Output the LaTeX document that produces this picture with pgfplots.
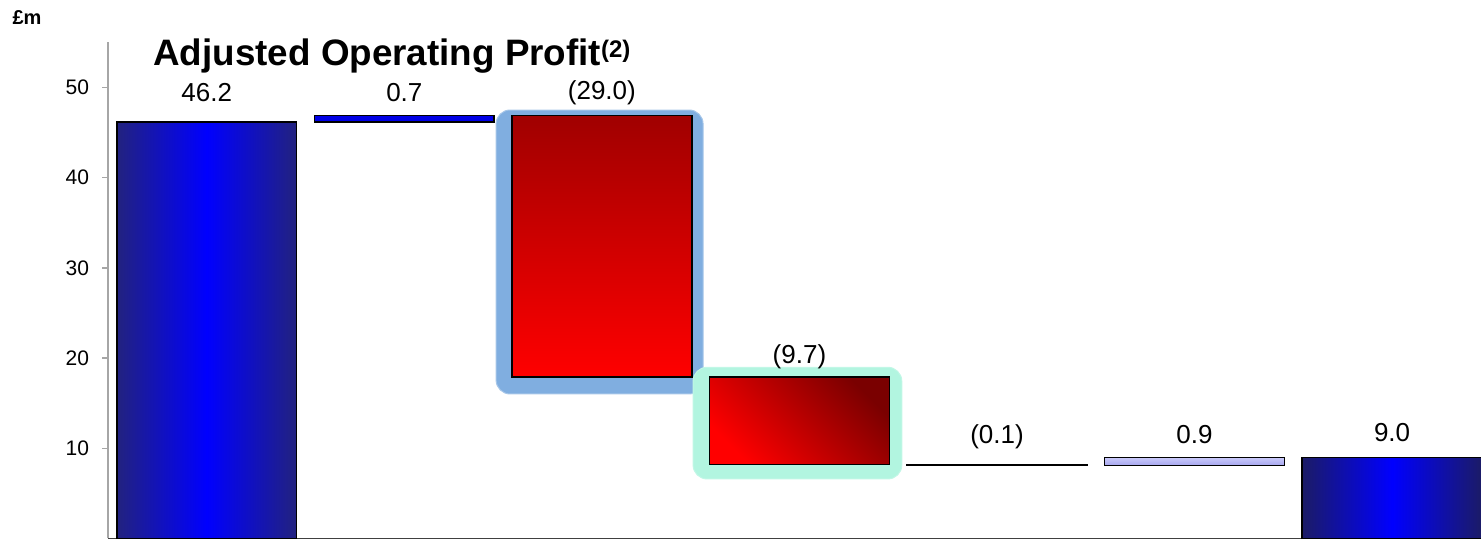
\documentclass[border=0pt]{standalone}
\usepackage{fontspec}
\setmainfont{Liberation Sans}
\usepackage{pgfplots}
\pgfplotsset{compat=1.18}
\definecolor{navyedge}{HTML}{22227F}
\definecolor{barblue}{HTML}{0000FF}
\definecolor{smallblue}{HTML}{0000E6}
\definecolor{darkred}{HTML}{A00000}
\definecolor{deepred}{HTML}{7A0000}
\definecolor{brightred}{HTML}{FF0000}
\definecolor{lavtop}{HTML}{CACAFA}
\definecolor{lavbot}{HTML}{A6A6EE}
\definecolor{glowblue}{HTML}{80AEE0}
\definecolor{glowmint}{HTML}{B2F5E0}
\definecolor{axgray}{HTML}{A6A6A6}
\begin{document}
\begin{tikzpicture}
\begin{axis}[
  at={(0,0)}, anchor=south west,
  scale only axis, width=686.5pt, height=248.25pt,
  xmin=-0.5, xmax=6.45, ymin=0, ymax=55.04,
  axis x line*=bottom, axis y line*=left,
  x axis line style={draw=black!75, line width=0.75pt},
  y axis line style={draw=axgray, line width=0.75pt},
  xtick=\empty,
  ytick={10,20,30,40,50},
  tick align=outside, major tick length=3pt,
  ytick style={draw=axgray, line width=0.75pt},
  /pgf/number format/assume math mode=true,
  yticklabel style={font=\fontsize{10.5}{12}\selectfont, xshift=-3pt},
  clip=false,
]
% glows
\addplot[fill=glowblue, draw=glowblue!70, line width=0.5pt, rounded corners=7pt]
  coordinates {(1.4645,16.02) (2.5123,16.02) (2.5123,47.5) (1.4645,47.5)} --cycle;
\addplot[fill=glowmint, draw=glowmint!80, line width=0.5pt, rounded corners=7pt]
  coordinates {(2.4616,6.60) (3.5182,6.60) (3.5182,18.98) (2.4616,18.98)} --cycle;
% bars
\addplot[draw=black, line width=0.8pt, left color=navyedge, right color=navyedge, middle color=barblue]
  coordinates {(-0.455,0) (0.455,0) (0.455,46.2) (-0.455,46.2)} --cycle;
\addplot[draw=black, line width=0.8pt, fill=smallblue]
  coordinates {(0.545,46.2) (1.455,46.2) (1.455,46.9) (0.545,46.9)} --cycle;
\addplot[draw=black, line width=0.8pt, top color=darkred, bottom color=brightred]
  coordinates {(1.545,17.9) (2.455,17.9) (2.455,46.9) (1.545,46.9)} --cycle;
\addplot[draw=black, line width=0.8pt, top color=deepred, bottom color=brightred, shading angle=-45]
  coordinates {(2.545,8.2) (3.455,8.2) (3.455,17.9) (2.545,17.9)} --cycle;
\addplot[draw=black, line width=1pt, fill=black]
  coordinates {(3.545,8.1) (4.455,8.1) (4.455,8.2) (3.545,8.2)} --cycle;
\addplot[draw=black, line width=0.8pt, top color=lavtop, bottom color=lavbot]
  coordinates {(4.545,8.1) (5.455,8.1) (5.455,9.0) (4.545,9.0)} --cycle;
\addplot[draw=black, line width=0.8pt, left color=navyedge!80!black, right color=navyedge!80!black, middle color=barblue]
  coordinates {(5.545,0) (6.455,0) (6.455,9.0) (5.545,9.0)} --cycle;
% value labels
\addplot[draw=none, mark=none, nodes near coords, point meta=explicit symbolic,
  nodes near coords style={anchor=center, font=\fontsize{13}{15}\selectfont, text=black}]
  coordinates {(0,49.4) [46.2] (1,49.4) [0.7] (2,49.4) [(29.0)] (3,20.2) [(9.7)]
               (4,11.3) [(0.1)] (5,11.5) [0.9] (6,11.75) [9.0]};
\end{axis}
\node[anchor=center, font=\bfseries\fontsize{10}{12}\selectfont] at (-40.5pt,260.25pt) {£m};
\node[anchor=base west, inner sep=0pt, font=\bfseries\fontsize{18.4}{22}\selectfont] at (22.5pt,236.5pt)
  {Adjusted Operating Profit\raisebox{4pt}{\fontsize{12}{12}\selectfont (2)}};
\pgfresetboundingbox
\path[use as bounding box] (-54pt,-0.25pt) rectangle (686.5pt,269.25pt);
\end{tikzpicture}
\end{document}
